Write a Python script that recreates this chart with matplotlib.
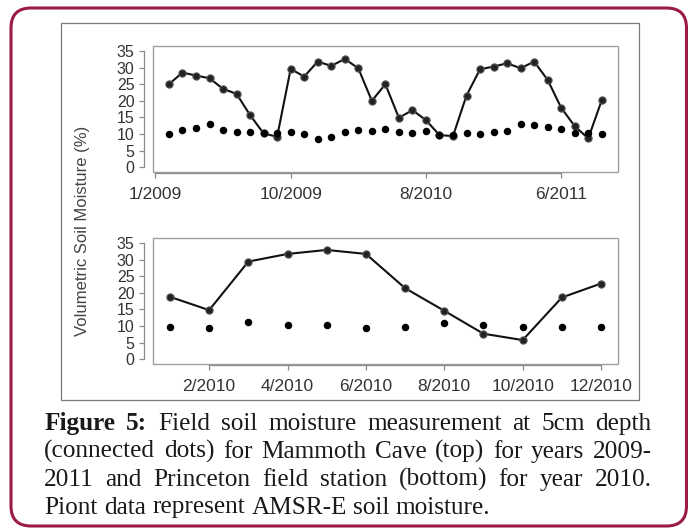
import matplotlib
matplotlib.use("Agg")
import matplotlib.pyplot as plt
from matplotlib.patches import Rectangle, FancyBboxPatch

# Mammoth Cave, 2009-2011 (sample number along x)
mc_sample = list(range(1, 34))
mc_field = [25.0, 28.5, 27.6, 26.8, 23.6, 22.1, 15.7, 10.2, 9.2, 29.6, 27.3,
            31.8, 30.5, 32.6, 29.8, 20.0, 25.0, 14.9, 17.2, 14.2, 9.7, 9.4,
            21.6, 29.5, 30.3, 31.3, 29.8, 31.8, 26.3, 17.9, 12.4, 8.7, 20.2]
mc_amsre = [9.9, 11.2, 11.7, 12.9, 11.2, 10.7, 10.7, 10.2, 10.4, 10.5, 9.9,
            8.5, 9.0, 10.7, 11.2, 10.9, 11.4, 10.7, 10.2, 10.9, 9.7, 9.6,
            10.2, 9.9, 10.7, 11.0, 12.9, 12.8, 12.0, 11.6, 10.4, 10.2, 9.9]
mc_tick_pos = [0, 10, 20, 30]
mc_tick_lab = ["1/2009", "10/2009", "8/2010", "6/2011"]

# Princeton, 2010 (month)
pr_month = list(range(1, 13))
pr_field = [18.8, 14.8, 29.4, 31.7, 32.9, 31.7, 21.4, 14.6, 7.7, 5.8, 18.6, 22.8]
pr_amsre = [9.8, 9.3, 11.1, 10.3, 10.3, 9.3, 9.8, 10.8, 10.3, 9.8, 9.8, 9.8]
pr_tick_pos = [2, 4, 6, 8, 10, 12]
pr_tick_lab = ["2/2010", "4/2010", "6/2010", "8/2010", "10/2010", "12/2010"]

y_ticks = [0, 5, 10, 15, 20, 25, 30, 35]

caption = [
    "Figure 5: Field soil moisture measurement at 5cm depth",
    "(connected dots) for Mammoth Cave (top) for years 2009-",
    "2011 and Princeton field station (bottom) for year 2010.",
    "Piont data represent AMSR-E soil moisture.",
]

W, H = 688, 528
fig = plt.figure(figsize=(W / 100, H / 100), dpi=100)
plt.rcParams["font.family"] = ["Liberation Sans", "DejaVu Sans"]

txt = "#333333"
axc = "#8a8a8a"


def px_rect(x0, y0, x1, y1):
    # pixel box (top-left origin) -> figure fraction
    return [x0 / W, (H - y1) / H, (x1 - x0) / W, (y1 - y0) / H]


def style(ax, xlim, ticks, labels):
    ax.set_xlim(*xlim)
    ax.set_ylim(-1.4, 36.4)
    for s in ("top", "right"):
        ax.spines[s].set_visible(False)
    ax.spines["left"].set_position(("outward", 6))
    ax.spines["left"].set_bounds(0, 35)
    ax.spines["bottom"].set_position(("outward", 1))
    ax.spines["bottom"].set_bounds(ticks[0], ticks[-1])
    for s in ("left", "bottom"):
        ax.spines[s].set_color(axc)
        ax.spines[s].set_linewidth(0.9)
    ax.add_patch(Rectangle((0, 0), 1, 1, transform=ax.transAxes, fill=False,
                           edgecolor="#a0a0a0", lw=1.0, clip_on=False))
    ax.set_yticks(y_ticks)
    ax.set_xticks(ticks)
    ax.set_xticklabels(labels)
    ax.tick_params(axis="y", length=3.5, width=0.9, color=axc, pad=3.5,
                   labelsize=11.5, labelcolor=txt)
    ax.tick_params(axis="x", length=3.5, width=0.9, color=axc, pad=6,
                   labelsize=12.5, labelcolor=txt)


ax1 = fig.add_axes(px_rect(152.7, 46.3, 618, 172))
ax1.plot(mc_sample, mc_field, "-o", color="#111111", lw=1.5, ms=5.2,
         mfc="#222222", mec="#555555", mew=0.8)
ax1.plot(mc_sample, mc_amsre, "o", color="black", ms=5.4, mew=0)
style(ax1, (-0.2, 34.2), mc_tick_pos, mc_tick_lab)

ax2 = fig.add_axes(px_rect(152.7, 238.3, 618.3, 364))
ax2.plot(pr_month, pr_field, "-o", color="#111111", lw=1.5, ms=5.2,
         mfc="#222222", mec="#555555", mew=0.8)
ax2.plot(pr_month, pr_amsre, "o", color="black", ms=5.4, mew=0)
style(ax2, (0.56, 12.44), pr_tick_pos, pr_tick_lab)

fig.text(83 / W, 1 - 231 / H, "Volumetric Soil Moisture (%)", rotation=90,
         ha="center", va="center", fontsize=12, color="#444444")

# frames
fig.patches.append(Rectangle((61 / 100, (H - 399.5) / 100), 578 / 100, 376.8 / 100,
                             transform=fig.dpi_scale_trans, fill=False,
                             edgecolor="#7a7a7a", lw=0.9))
fig.patches.append(FancyBboxPatch((11 / 100, 2 / 100), 675.5 / 100, 518 / 100,
                                  boxstyle="round,pad=0,rounding_size=0.2",
                                  transform=fig.dpi_scale_trans, fill=False,
                                  edgecolor="#9b1b45", lw=2.2))

# justified caption
renderer = fig.canvas.get_renderer()
x_left, x_right = 44.3, 651.7
baselines = [430, 458, 486, 513.5]
cap_size = 18.2
for li, line in enumerate(caption):
    words = line.split(" ")
    items = []
    for wi, w in enumerate(words):
        bold = li == 0 and wi < 2
        t = fig.text(0, 1 - baselines[li] / H, w, fontsize=cap_size,
                     family=["Liberation Serif", "DejaVu Serif"],
                     fontweight="bold" if bold else "normal",
                     color="#1a1a1a", va="baseline", ha="left")
        items.append(t)
    widths = [t.get_window_extent(renderer).width for t in items]
    if li < len(caption) - 1:
        gap = (x_right - x_left - sum(widths)) / (len(items) - 1)
    else:
        gap = cap_size * 100 / 72 * 0.25
    x = x_left
    for t, w in zip(items, widths):
        t.set_x(x / W)
        x += w + gap

fig.savefig("out.png", dpi=100)
